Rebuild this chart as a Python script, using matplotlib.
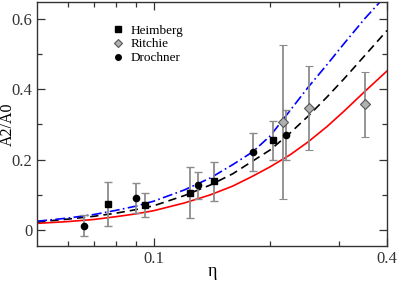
import numpy as np
import matplotlib
matplotlib.use("Agg")
import matplotlib.pyplot as plt
from matplotlib.ticker import FixedLocator, NullFormatter

plt.rcParams['font.family'] = ['Liberation Serif', 'DejaVu Serif']
plt.rcParams['mathtext.fontset'] = 'stix'

# measured data
heim_x = [0.076, 0.095, 0.124, 0.143, 0.203]
heim_y = [0.074, 0.070, 0.106, 0.138, 0.255]
heim_e = [0.062, 0.034, 0.073, 0.055, 0.056]

ritchie_x = [0.215, 0.2515, 0.350]
ritchie_y = [0.307, 0.346, 0.357]
ritchie_e = [0.220, 0.120, 0.093]

dro_x = [0.066, 0.090, 0.130, 0.180, 0.219]
dro_y = [0.012, 0.090, 0.127, 0.222, 0.270]
dro_e = [0.030, 0.043, 0.038, 0.055, 0.070]

# theory curves
curve_x = [0.05, 0.06, 0.07, 0.08, 0.09, 0.1, 0.12, 0.14, 0.16, 0.18,
           0.2, 0.225, 0.25, 0.28, 0.31, 0.35, 0.4]
red_y   = [0.019, 0.024, 0.030, 0.038, 0.046, 0.055, 0.077, 0.100, 0.125, 0.153,
           0.180, 0.214, 0.250, 0.294, 0.338, 0.393, 0.452]
black_y = [0.023, 0.031, 0.039, 0.048, 0.058, 0.069, 0.098, 0.128, 0.160, 0.196,
           0.228, 0.276, 0.323, 0.378, 0.430, 0.495, 0.567]
blue_y  = [0.025, 0.034, 0.044, 0.056, 0.068, 0.082, 0.114, 0.148, 0.186, 0.222,
           0.268, 0.340, 0.405, 0.470, 0.530, 0.600, 0.670]

fig = plt.figure(figsize=(3.99, 2.81), dpi=100)
ax = fig.add_axes([0.093, 0.125, 0.877, 0.868])

ax.plot(curve_x, red_y, color='red', lw=1.2, ls='-')
ax.plot(curve_x, black_y, color='black', lw=1.2, ls=(0, (5, 3)))
ax.plot(curve_x, blue_y, color='blue', lw=1.2, ls=(0, (6, 2, 1, 2)))

eb = dict(ecolor='#8c8c8c', elinewidth=1.3, capsize=3, capthick=1.0, ls='none', zorder=3)
ax.errorbar(heim_x, heim_y, yerr=heim_e, marker='s', ms=5, mfc='black', mec='black', **eb)
ax.errorbar(ritchie_x, ritchie_y, yerr=ritchie_e, marker='D', ms=5, mfc='#b0b0b0', mec='#555555', mew=0.8, **eb)
ax.errorbar(dro_x, dro_y, yerr=dro_e, marker='o', ms=4.5, mfc='black', mec='black', **eb)

# legend markers only
h1, = ax.plot([], [], 's', color='black', ms=5)
h2, = ax.plot([], [], 'D', mfc='#b0b0b0', mec='#555555', mew=0.8, ms=4.5)
h3, = ax.plot([], [], 'o', color='black', ms=4)
ax.legend([h1, h2, h3], ['Heimberg', 'Ritchie', 'Drochner'], loc='upper left',
          bbox_to_anchor=(0.2, 0.93), frameon=False, fontsize=9.5,
          handlelength=0.8, handletextpad=0.6, labelspacing=0.12, borderaxespad=0)

ax.set_xscale('log')
ax.set_xlim(0.05, 0.4)
ax.set_ylim(-0.045, 0.648)
ax.xaxis.set_major_locator(FixedLocator([0.1, 0.4]))
ax.xaxis.set_minor_locator(FixedLocator([0.06, 0.07, 0.08, 0.09, 0.2, 0.3]))
ax.xaxis.set_minor_formatter(NullFormatter())
ax.set_xticklabels(['0.1', '0.4'])
ax.set_yticks([0, 0.2, 0.4, 0.6])
ax.set_yticklabels(['0', '0.2', '0.4', '0.6'])
ax.set_yticks([0.1, 0.3, 0.5], minor=True)

ax.tick_params(which='both', direction='in', top=True, right=True, labelsize=12, colors='#333333')
ax.tick_params(which='major', length=6, width=0.9)
ax.tick_params(which='minor', length=3.5, width=0.9)
for s in ax.spines.values():
    s.set_linewidth(1.0)
    s.set_color('#333333')

ax.set_xlabel('η', fontsize=13, va='center')
ax.xaxis.set_label_coords(0.5, -0.107)
ax.set_ylabel('A2/A0', fontsize=11.5, va='center')
ax.yaxis.set_label_coords(-0.083, 0.5)

fig.savefig('out.png', dpi=100)
